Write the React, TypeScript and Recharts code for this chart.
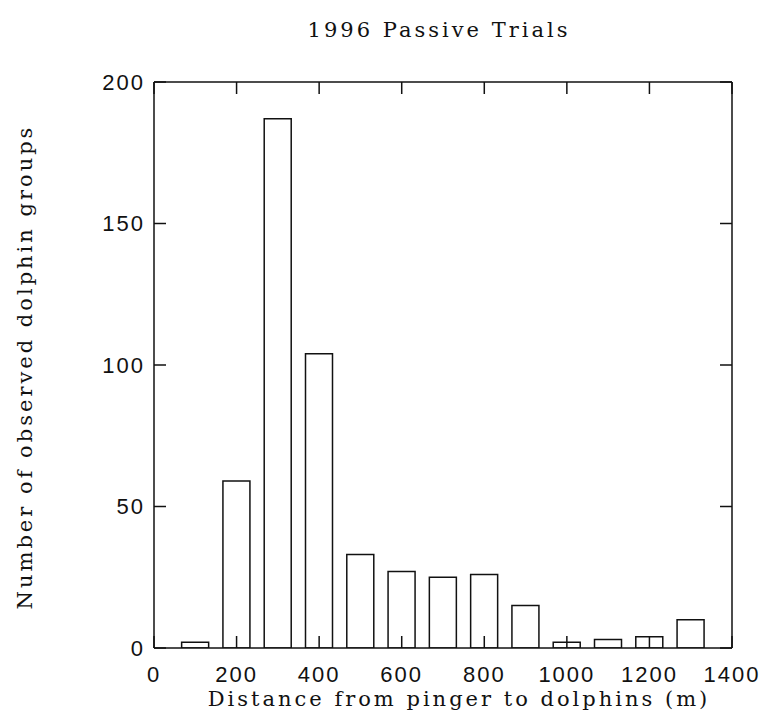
import React from 'react';
import { BarChart, Bar, XAxis, YAxis, Label } from 'recharts';

// histogram bins (m) and counts
const binCenters = [100, 200, 300, 400, 500, 600, 700, 800, 900, 1000, 1100, 1200, 1300];
const groupCounts = [2, 59, 187, 104, 33, 27, 25, 26, 15, 2, 3, 4, 10];
const xTicks = [0, 200, 400, 600, 800, 1000, 1200, 1400];
const yTicks = [0, 50, 100, 150, 200];

const chartData = binCenters.map((distance, i) => ({ distance, groups: groupCounts[i] }));

const serif = '"DejaVu Serif", serif';
const sans = '"Liberation Sans", Arial, sans-serif';
const ink = '#111';
const tickStyle = { fontFamily: sans, fontSize: 22, fill: ink, letterSpacing: 2 };
const lineStyle = { stroke: ink, strokeWidth: 1.5 };
const labelStyle = { fontFamily: serif, fontSize: 21, fill: ink, letterSpacing: 3 };
const blank = () => '';

const App: React.FC = () => {
  return (
    <BarChart
      width={760}
      height={710}
      data={chartData}
      margin={{ top: 44, right: 36, bottom: 0, left: 0 }}
    >
      {/* bottom border: inward ticks only */}
      <XAxis
        xAxisId='bottomTicks'
        orientation='bottom'
        dataKey='distance'
        type='number'
        domain={[0, 1400]}
        ticks={xTicks}
        interval={0}
        allowDataOverflow
        height={1}
        mirror
        tickSize={12}
        tick={{ fill: 'none' }}
        tickFormatter={blank}
        tickLine={lineStyle}
        axisLine={lineStyle}
      />
      {/* bottom labels */}
      <XAxis
        xAxisId='bottom'
        orientation='bottom'
        dataKey='distance'
        type='number'
        domain={[0, 1400]}
        ticks={xTicks}
        interval={0}
        allowDataOverflow
        height={70}
        tick={tickStyle}
        tickSize={0}
        tickMargin={18}
        tickLine={false}
        axisLine={false}
      >
        <Label
          content={() => (
            <text x={451} y={698} textAnchor='middle' style={labelStyle}>
              Distance from pinger to dolphins (m)
            </text>
          )}
        />
      </XAxis>
      {/* top border with inward ticks, no labels */}
      <XAxis
        xAxisId='top'
        orientation='top'
        dataKey='distance'
        type='number'
        domain={[0, 1400]}
        ticks={xTicks}
        interval={0}
        allowDataOverflow
        height={30}
        tick={{ fill: 'none' }}
        tickSize={-12}
        tickMargin={0}
        tickLine={lineStyle}
        axisLine={lineStyle}
      >
        <Label
          content={() => (
            <text x={431} y={29} textAnchor='middle' style={labelStyle}>
              1996 Passive Trials
            </text>
          )}
        />
      </XAxis>
      <YAxis
        yAxisId='left'
        type='number'
        domain={[0, 200]}
        ticks={yTicks}
        allowDataOverflow
        width={146}
        tick={tickStyle}
        tickSize={-12}
        tickMargin={21}
        tickLine={lineStyle}
        axisLine={lineStyle}
      >
        <Label
          content={() => (
            <text
              x={17}
              y={359}
              textAnchor='middle'
              dominantBaseline='central'
              transform='rotate(-90, 17, 359)'
              style={labelStyle}
            >
              Number of observed dolphin groups
            </text>
          )}
        />
      </YAxis>
      <YAxis
        yAxisId='right'
        orientation='right'
        type='number'
        domain={[0, 200]}
        ticks={yTicks}
        allowDataOverflow
        width={1}
        mirror
        tickSize={12}
        tickFormatter={blank}
        tickLine={lineStyle}
        axisLine={lineStyle}
      />
      <Bar
        xAxisId='bottom'
        yAxisId='left'
        dataKey='groups'
        barSize={27}
        fill='none'
        stroke={ink}
        strokeWidth={1.5}
        isAnimationActive={false}
      />
    </BarChart>
  );
};

export default App;
